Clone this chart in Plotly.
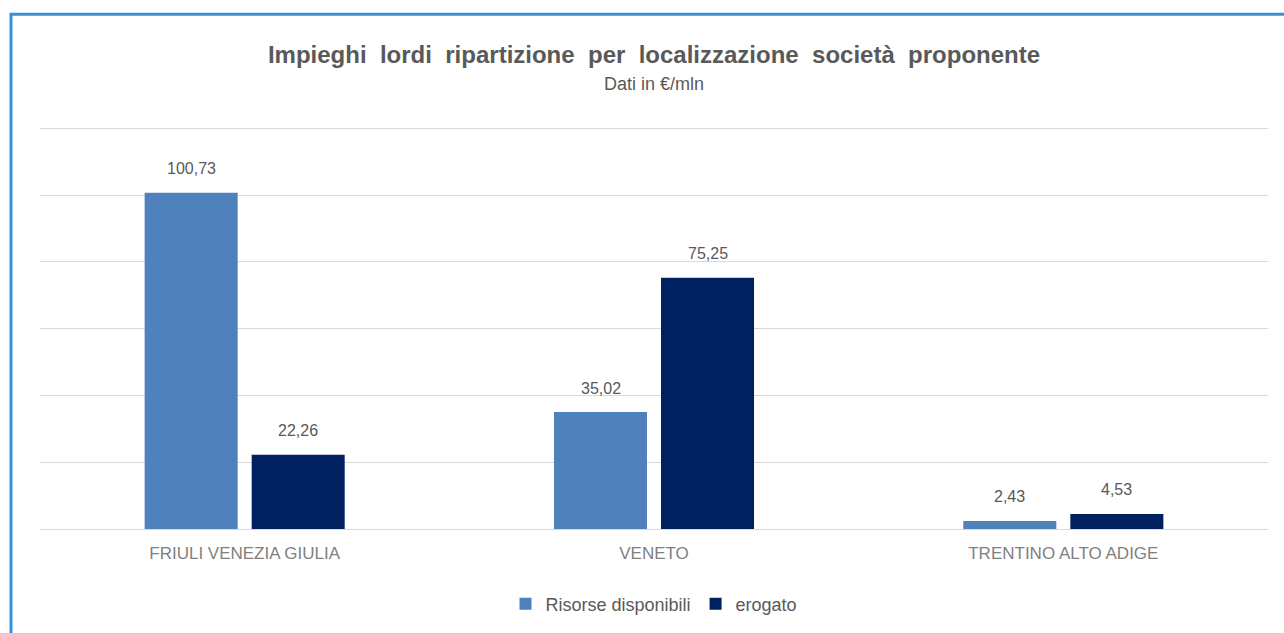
import plotly.graph_objects as go

categories = ["FRIULI VENEZIA GIULIA", "VENETO", "TRENTINO ALTO ADIGE"]
risorse = [100.73, 35.02, 2.43]
erogato = [22.26, 75.25, 4.53]
series_names = ["Risorse disponibili", "erogato"]
colors = ["#4F81BD", "#002060"]
title_text = "Impieghi  lordi  ripartizione  per  localizzazione  società  proponente"
subtitle_text = "Dati in €/mln"

FONT = "Liberation Sans, Arial, sans-serif"

def fmt(v):
    return f"{v:.2f}".replace(".", ",")

# plot area: top 125 px, bottom at 530 px -> 405 px for 121 units
PLOT_H = 405

fig = go.Figure()
series = [risorse, erogato]
for name, vals, col in zip(series_names, series, colors):
    fig.add_trace(go.Bar(
        x=categories, y=vals, name=name, marker=dict(color=col, line=dict(width=0)),
        cliponaxis=False,
    ))

annotations = []
slot_px = 107
for i, vals in enumerate(series):
    for cat, v in zip(categories, vals):
        annotations.append(dict(
            x=cat, y=v, xref="x", yref="y", text=fmt(v), showarrow=False,
            xshift=(i - 0.5) * slot_px, yshift=24, yanchor="middle",
            font=dict(family=FONT, size=16, color="#595959"),
        ))

annotations.append(dict(
    x=0.5, y=(530 - 84) / PLOT_H, xref="paper", yref="paper", text=subtitle_text,
    showarrow=False, yanchor="middle", xanchor="center",
    font=dict(family=FONT, size=18, color="#595959"),
))

fig.update_layout(
    width=1284, height=633,
    margin=dict(l=40, r=16, t=633 - 103 - PLOT_H, b=103),
    paper_bgcolor="white", plot_bgcolor="white",
    barmode="group", bargap=0.477, bargroupgap=0.131,
    title=dict(
        text="<b>" + title_text + "</b>",
        x=0.5, xref="paper", xanchor="center", y=1 - 55 / 633, yanchor="middle",
        font=dict(family=FONT, size=24, color="#595959"),
    ),
    xaxis=dict(showgrid=False, showline=False, ticks="", ticklabelstandoff=12,
               tickfont=dict(family=FONT, size=17, color="#7F7F7F")),
    yaxis=dict(range=[0, 121], dtick=20, showticklabels=False, gridcolor="#D9D9D9",
               gridwidth=1, zeroline=True, zerolinecolor="#D9D9D9", zerolinewidth=1, ticks=""),
    legend=dict(orientation="h", x=0.5, xanchor="center", y=-74 / PLOT_H, yanchor="middle",
                font=dict(family=FONT, size=18, color="#595959"), itemwidth=30),
    showlegend=True,
    annotations=annotations,
    shapes=[dict(type="rect", xref="paper", yref="paper",
                 x0=-29 / 1228, x1=1.2, y0=-0.5, y1=(530 - 14) / PLOT_H,
                 line=dict(color="#3A8FD9", width=3), layer="above")],
)

fig.write_html("out.html")
